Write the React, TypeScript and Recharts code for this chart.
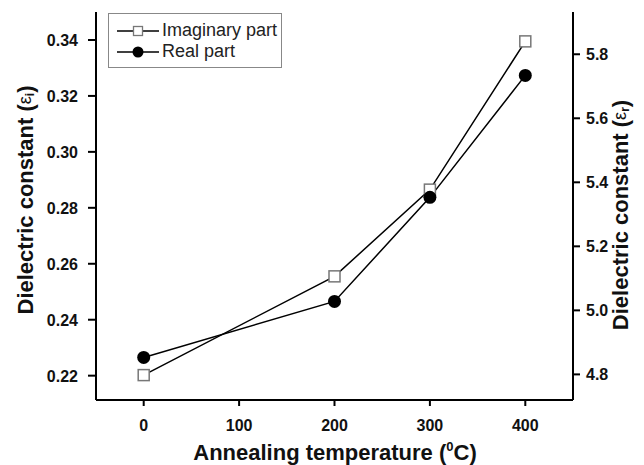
import { LineChart, Line, XAxis, YAxis, Legend, Label } from "recharts";

const temperatures = [0, 200, 300, 400];
const imaginaryPart = [0.2202, 0.2555, 0.2865, 0.3395];
const realPart = [4.853, 5.028, 5.353, 5.734];

const xTicks = [0, 100, 200, 300, 400];
const leftTicks = [0.22, 0.24, 0.26, 0.28, 0.3, 0.32, 0.34];
const rightTicks = [4.8, 5.0, 5.2, 5.4, 5.6, 5.8];

const data = temperatures.map((t, i) => ({
  temp: t,
  imaginary: imaginaryPart[i],
  real: realPart[i],
}));

const FONT = "Arial, 'Liberation Sans', Helvetica, sans-serif";
const axisLine = { stroke: "#000", strokeWidth: 2 };

const SquareDot = (props: any) => {
  const { cx, cy } = props;
  if (cx == null || cy == null) return null;
  return <rect x={cx - 5.5} y={cy - 5.5} width={11} height={11} fill="#fff" stroke="#777" strokeWidth={1.5} />;
};

const CircleDot = (props: any) => {
  const { cx, cy } = props;
  if (cx == null || cy == null) return null;
  return <circle cx={cx} cy={cy} r={6.5} fill="#000" />;
};

const makeTick = (anchor: "start" | "middle" | "end", dy: number, digits: number) => (props: any) => {
  const { x, y, payload } = props;
  const v = payload.value;
  return (
    <text
      x={x}
      y={y}
      dy={dy}
      textAnchor={anchor}
      fontFamily={FONT}
      fontWeight={700}
      fontSize={16}
      fill="#111"
    >
      {digits > 0 ? Number(v).toFixed(digits) : v}
    </text>
  );
};

// rotated axis title with a subscript
const yTitle = (x: number, y: number, sub: string) => () =>
  (
    <text
      x={x}
      y={y}
      transform={`rotate(-90 ${x} ${y})`}
      textAnchor="middle"
      dominantBaseline="central"
      fontFamily={FONT}
      fontWeight={700}
      fontSize={22}
      fill="#111"
    >
      Dielectric constant (
      <tspan fontWeight={400} fontSize={18}>ε</tspan>
      <tspan fontSize={12} dy={5}>{sub}</tspan>
      <tspan dy={-5}>)</tspan>
    </text>
  );

const xTitle = () => (
  <text x={335} y={460} textAnchor="middle" fontFamily={FONT} fontWeight={700} fontSize={22} fill="#111">
    Annealing temperature (
    <tspan fontSize={13} dy={-9}>0</tspan>
    <tspan dy={9}>C)</tspan>
  </text>
);

const LegendBox = () => (
  <div
    style={{
      border: "1px solid #888",
      background: "#fff",
      width: 174,
      height: 55,
      boxSizing: "border-box",
      paddingTop: 6,
      fontFamily: FONT,
      fontSize: 18,
      color: "#222",
    }}
  >
    {[
      { name: "Imaginary part", square: true },
      { name: "Real part", square: false },
    ].map((item) => (
      <div key={item.name} style={{ display: "flex", alignItems: "center", height: 21 }}>
        <svg width={47} height={16} style={{ marginLeft: 6 }}>
          <line x1={2} y1={8} x2={44} y2={8} stroke="#000" strokeWidth={1.5} />
          {item.square ? (
            <rect x={18.5} y={3.5} width={9} height={9} fill="#fff" stroke="#777" strokeWidth={1.3} />
          ) : (
            <circle cx={23} cy={8} r={5.5} fill="#000" />
          )}
        </svg>
        <span>{item.name}</span>
      </div>
    ))}
  </div>
);

export default function App() {
  return (
    <div style={{ position: "absolute", left: 0, top: 0, width: 644, height: 465, background: "#fff" }}>
      <LineChart width={644} height={465} data={data} margin={{ top: 12, right: 0, bottom: 0, left: 0 }}>
        <XAxis
          dataKey="temp"
          type="number"
          domain={[-50, 450]}
          ticks={xTicks}
          height={65}
          axisLine={axisLine}
          tickLine={{ stroke: "#000", strokeWidth: 2 }}
          tickSize={6}
          tickMargin={2}
          tick={makeTick("middle", 23, 0)}
          allowDataOverflow
        >
          <Label content={xTitle} />
        </XAxis>
        <XAxis
          xAxisId="top"
          orientation="top"
          type="number"
          domain={[-50, 450]}
          height={0}
          tick={false}
          tickLine={false}
          axisLine={axisLine}
        />
        <YAxis
          yAxisId="left"
          domain={[0.2113, 0.35]}
          ticks={leftTicks}
          width={96}
          axisLine={axisLine}
          tickLine={{ stroke: "#000", strokeWidth: 2 }}
          tickSize={8}
          tickMargin={10}
          tick={makeTick("end", 6, 2)}
          allowDataOverflow
        >
          <Label content={yTitle(25, 200, "i")} />
        </YAxis>
        <YAxis
          yAxisId="right"
          orientation="right"
          domain={[4.72, 5.932]}
          ticks={rightTicks}
          width={71}
          axisLine={axisLine}
          tickLine={{ stroke: "#000", strokeWidth: 2 }}
          tickSize={7}
          tickMargin={6}
          tick={makeTick("start", 6, 1)}
          allowDataOverflow
        >
          <Label content={yTitle(620, 215, "r")} />
        </YAxis>
        <Legend
          layout="horizontal"
          verticalAlign="middle"
          align="center"
          wrapperStyle={{ left: 108, top: 13, width: 174, height: 55 }}
          content={LegendBox}
        />
        <Line
          yAxisId="left"
          dataKey="imaginary"
          stroke="#000"
          strokeWidth={1.5}
          dot={SquareDot}
          isAnimationActive={false}
        />
        <Line
          yAxisId="right"
          dataKey="real"
          stroke="#000"
          strokeWidth={1.5}
          dot={CircleDot}
          isAnimationActive={false}
        />
      </LineChart>
    </div>
  );
}
